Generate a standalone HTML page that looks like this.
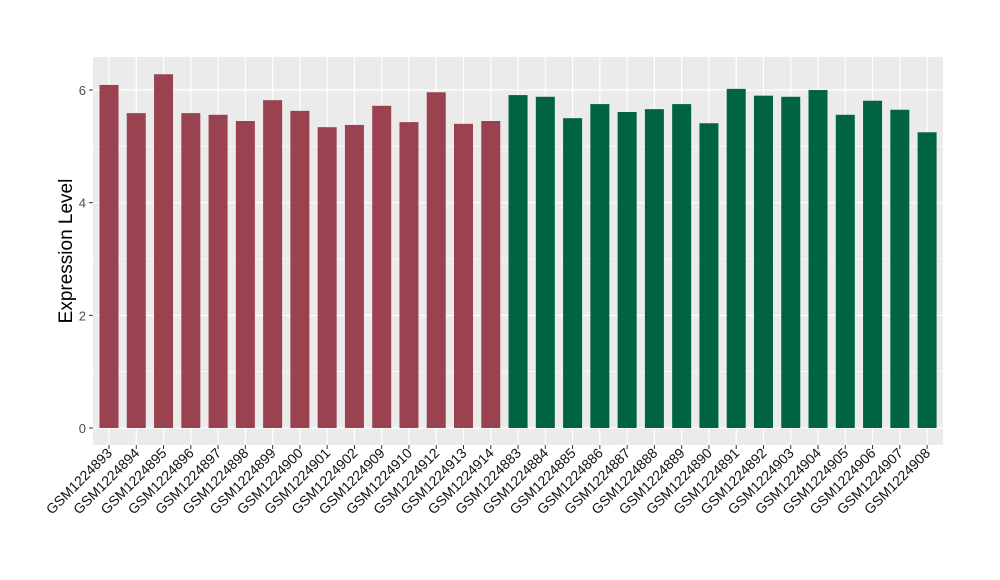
<!DOCTYPE html>
<html><head><meta charset="utf-8"><style>
body{margin:0;background:#fff;}
svg{display:block;font-family:"Liberation Sans",sans-serif;}
</style></head><body>
<svg id="chart" width="1000" height="580">
<rect x="93" y="57" width="850" height="388" fill="#ebebeb"/>
<g id="grid"></g><g id="bars"></g><g id="axes"></g>
<text transform="translate(72,251) rotate(-90)" text-anchor="middle" font-size="19" fill="#000">Expression Level</text>
</svg>
<script>
const categories=["GSM1224893","GSM1224894","GSM1224895","GSM1224896","GSM1224897","GSM1224898","GSM1224899","GSM1224900","GSM1224901","GSM1224902","GSM1224909","GSM1224910","GSM1224912","GSM1224913","GSM1224914","GSM1224883","GSM1224884","GSM1224885","GSM1224886","GSM1224887","GSM1224888","GSM1224889","GSM1224890","GSM1224891","GSM1224892","GSM1224903","GSM1224904","GSM1224905","GSM1224906","GSM1224907","GSM1224908"];
const values=[6.09,5.59,6.28,5.59,5.56,5.45,5.82,5.63,5.34,5.38,5.72,5.43,5.96,5.40,5.45,5.91,5.88,5.50,5.75,5.61,5.66,5.75,5.41,6.02,5.90,5.88,6.00,5.56,5.81,5.65,5.25];
const groups=[0,0,0,0,0,0,0,0,0,0,0,0,0,0,0,1,1,1,1,1,1,1,1,1,1,1,1,1,1,1,1];
const yTicks=[0,2,4,6];
const colors=["#9a4250","#006442"];
const NS="http://www.w3.org/2000/svg";
const x0=93,x1=943,yTop=57,yBot=445;
const y=v=>428-v*56.33;
const xc=i=>109+i*27.27;
const bw=19;
function mk(t,a,p){const e=document.createElementNS(NS,t);for(const k in a)e.setAttribute(k,a[k]);p.appendChild(e);return e;}
const grid=document.getElementById('grid'),bars=document.getElementById('bars'),axes=document.getElementById('axes');
for(let k=0;k<yTicks.length-1;k++){const m=(yTicks[k]+yTicks[k+1])/2;
const g=mk('line',{x1:x0,x2:x1,y1:y(m),y2:y(m),stroke:'#fff','stroke-width':0.6},grid);

}
yTicks.forEach(t=>{const g=mk('line',{x1:x0,x2:x1,y1:y(t),y2:y(t),stroke:'#fff','stroke-width':1.2},grid);


const tk=mk('line',{x1:x0-4,x2:x0,y1:y(t),y2:y(t),stroke:'#333'},axes);


const l=mk('text',{x:x0-7,y:y(t)+5,'text-anchor':'end','font-size':13,fill:'#4d4d4d'},axes);l.textContent=t;

});
categories.forEach((c,i)=>{const g=mk('line',{x1:xc(i),x2:xc(i),y1:yTop,y2:yBot,stroke:'#fff','stroke-width':1.2},grid);


const b=mk('rect',{x:xc(i)-bw/2,y:y(values[i]),width:bw,height:y(0)-y(values[i]),fill:colors[groups[i]]},bars);


const tk=mk('line',{x1:xc(i),x2:xc(i),y1:yBot,y2:yBot+4,stroke:'#333'},axes);


const l=mk('text',{transform:`translate(${xc(i)+4},${yBot+9}) rotate(-45)`,'text-anchor':'end','font-size':14,fill:'#111'},axes);l.textContent=c;

});
</script>
</body></html>
